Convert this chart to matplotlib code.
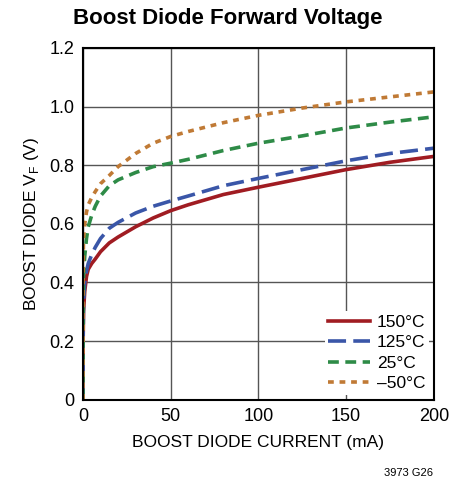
import matplotlib
matplotlib.use("Agg")
import matplotlib.pyplot as plt
import numpy as np

plt.rcParams['font.family'] = ['Liberation Sans', 'DejaVu Sans']

# Valores (corrente em mA, tensão em V)
corrente = [0, 0.1, 0.3, 1, 2, 3, 5, 7, 10, 15, 20, 30, 40, 50, 60, 80, 100, 125, 150, 175, 200]
v_150 = [0.0, 0.20, 0.30, 0.37, 0.42, 0.445, 0.465, 0.48, 0.505, 0.535, 0.555, 0.59, 0.62,
         0.645, 0.665, 0.70, 0.725, 0.755, 0.785, 0.81, 0.83]
v_125 = [0.0, 0.22, 0.33, 0.40, 0.44, 0.465, 0.495, 0.52, 0.55, 0.585, 0.605, 0.637, 0.66,
         0.678, 0.695, 0.73, 0.755, 0.785, 0.815, 0.84, 0.858]
v_25 = [0.0, 0.30, 0.42, 0.49, 0.55, 0.59, 0.63, 0.66, 0.695, 0.73, 0.75, 0.775, 0.795,
        0.807, 0.82, 0.85, 0.875, 0.90, 0.927, 0.947, 0.965]
v_m50 = [0.0, 0.45, 0.55, 0.60, 0.64, 0.665, 0.69, 0.71, 0.737, 0.765, 0.795, 0.84, 0.875,
         0.898, 0.915, 0.945, 0.97, 0.995, 1.016, 1.033, 1.05]

rotulos = ['150°C', '125°C', '25°C', '–50°C']
cores = ['#a01c22', '#3a56a8', '#2e8b47', '#c07a35']
estilos = ['-', (0, (5, 2)), (0, (3, 1.8)), (0, (1.6, 1.6))]

xticks = [0, 50, 100, 150, 200]
yticks = [0, 0.2, 0.4, 0.6, 0.8, 1.0, 1.2]
ytick_labels = ['0', '0.2', '0.4', '0.6', '0.8', '1.0', '1.2']

fig = plt.figure(figsize=(4.51, 4.84), dpi=100)
ax = fig.add_axes([0.184, 0.174, 0.778, 0.727])

for v, rot, cor, est in zip([v_150, v_125, v_25, v_m50], rotulos, cores, estilos):
    ax.plot(corrente, v, color=cor, linestyle=est, linewidth=2.6, label=rot)

ax.set_xlim(0, 200)
ax.set_ylim(0, 1.2)
ax.set_xticks(xticks)
ax.set_yticks(yticks)
ax.set_yticklabels(ytick_labels)
ax.grid(True, color='#555555', linewidth=1.0)
ax.set_axisbelow(True)
for s in ax.spines.values():
    s.set_linewidth(1.5)
    s.set_color('black')
ax.tick_params(axis='both', labelsize=13, length=0, pad=6)

ax.set_xlabel('BOOST DIODE CURRENT (mA)', fontsize=12.5, labelpad=7)
ax.set_ylabel('BOOST DIODE V$_\\mathregular{F}$ (V)', fontsize=12.5, labelpad=6)

fig.text(0.505, 0.962, 'Boost Diode Forward Voltage', ha='center', va='center',
         fontsize=16, fontweight='bold')
fig.text(0.96, 0.012, '3973 G26', ha='right', va='bottom', fontsize=8)

leg = ax.legend(loc='lower right', fontsize=12.5, frameon=True, framealpha=1,
                edgecolor='none', handlelength=2.4, handletextpad=0.4,
                labelspacing=0.3, borderpad=0.2, borderaxespad=0.3)
leg.get_frame().set_linewidth(0)

fig.savefig('out.png', dpi=100)
